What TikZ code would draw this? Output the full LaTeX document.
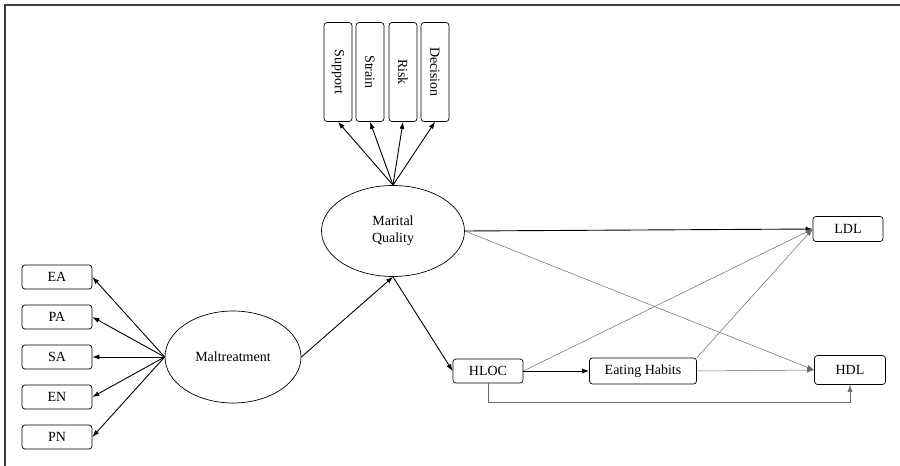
\documentclass[tikz,border=0pt]{standalone}
\usepackage{fontspec}
\setmainfont{Liberation Serif}
\usetikzlibrary{arrows.meta,shapes.geometric}
\tikzstyle{pathDiagram} = [x = 1pt, y = -1pt, font = \fontsize{14}{17}\selectfont]
\definecolor{frameColor}{RGB}{60,60,60}
\definecolor{weakColor}{RGB}{105,105,105}
\tikzstyle{frameLine} = [color=frameColor, line width=2pt]
\tikzstyle{observedBox} = [draw, rounded corners = 3pt, line width = .7pt, minimum width = 70pt, minimum height = 24pt, inner sep = 1pt]
\tikzstyle{subscaleBox} = [observedBox, rotate = -90, minimum width = 99pt, minimum height = 28pt]
\tikzstyle{latentVar} = [draw, ellipse, line width = .7pt, inner sep = 0pt, align = center]
\tikzstyle{strongPath} = [-{Latex[length=7pt,width=5pt]}, line width = .9pt]
\tikzstyle{weakPath} = [-{Latex[length=7pt,width=5pt]}, color = weakColor, line width = .5pt]
\newcommand{\observed}[4]{\node [observedBox, minimum width = #3] (#1) at (#2) {#4};}

\begin{document}
\begin{tikzpicture}[pathDiagram]
  \useasboundingbox (0,0) rectangle (900,466);
  \draw [frameLine] (4,5) -- (900,5);
  \draw [frameLine] (5,5) -- (5,466);
  % latent variables
  \node [latentVar, minimum width = 136pt, minimum height = 92pt] (malt) at (233,357) {Maltreatment};
  \node [latentVar, minimum width = 143pt, minimum height = 91pt] (mq) at (393,231) {Marital\\Quality};
  % maltreatment indicators
  \foreach \ind/\yy in {EA/277, PA/317, SA/357, EN/397, PN/437} {
    \node [observedBox] (\ind) at (57,\yy) {\ind};
    \draw [strongPath] (malt.west) -- (\ind.east);
  }
  % marital quality indicators
  \foreach \sub/\xx in {Support/338, Strain/370, Risk/403, Decision/435} {
    \node [subscaleBox] (\sub) at (\xx,72) {\sub};
    \draw [strongPath] (mq.north) -- (\sub.east);
  }
  % mediators and outcomes
  \observed{hloc}{488,371}{70pt}{HLOC}
  \node [observedBox, minimum width = 107pt, minimum height = 26pt] (eat) at (643,371) {Eating Habits};
  \node [observedBox, minimum height = 25pt] (ldl) at (848,229) {LDL};
  \node [observedBox, minimum width = 71pt, minimum height = 29pt] (hdl) at (850,370) {HDL};
  \draw [strongPath] (malt.east) -- (mq.south);
  \draw [strongPath] (mq.south) -- (hloc.west);
  \draw [strongPath] (mq.east) -- (ldl.west);
  \draw [weakPath] (mq.east) -- (hdl.west);
  \draw [strongPath] (hloc.east) -- (eat.west);
  \draw [weakPath] (hloc.east) -- (ldl.west);
  \draw [weakPath] (eat.north east) -- (ldl.west);
  \draw [weakPath] (eat.east) -- (hdl.west);
  \draw [weakPath] (hloc.south) -- ++(0,19) -| (hdl.south);
\end{tikzpicture}
\end{document}
